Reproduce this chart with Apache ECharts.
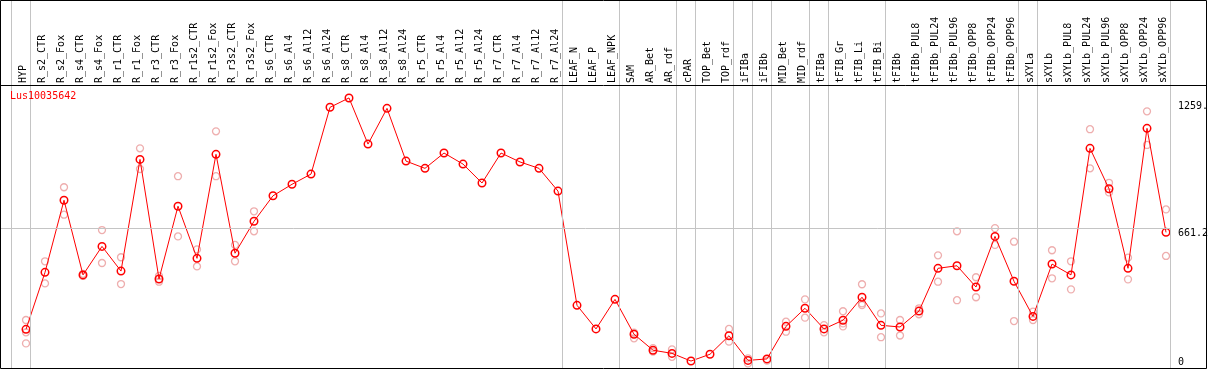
<!DOCTYPE html>
<html>
<head>
<meta charset="utf-8">
<script src="https://cdn.jsdelivr.net/npm/echarts@6/dist/echarts.min.js"></script>
<style>
  html, body { margin: 0; padding: 0; background: #fff; }
  #chart { width: 1209px; height: 370px; }
</style>
</head>
<body>
<div id="chart"></div>
<script>
const geneName = 'Lus10035642';

const categories = [
  'HYP', 'R_s2_CTR', 'R_s2_Fox', 'R_s4_CTR', 'R_s4_Fox', 'R_r1_CTR', 'R_r1_Fox', 'R_r3_CTR', 'R_r3_Fox',
  'R_r1s2_CTR', 'R_r1s2_Fox', 'R_r3s2_CTR', 'R_r3s2_Fox', 'R_s6_CTR', 'R_s6_Al4', 'R_s6_Al12', 'R_s6_Al24',
  'R_s8_CTR', 'R_s8_Al4', 'R_s8_Al12', 'R_s8_Al24', 'R_r5_CTR', 'R_r5_Al4', 'R_r5_Al12', 'R_r5_Al24',
  'R_r7_CTR', 'R_r7_Al4', 'R_r7_Al12', 'R_r7_Al24', 'LEAF_N', 'LEAF_P', 'LEAF_NPK', 'SAM', 'AR_Bet', 'AR_rdf',
  'cPAR', 'TOP_Bet', 'TOP_rdf', 'iFIBa', 'iFIBb', 'MID_Bet', 'MID_rdf', 'tFIBa', 'tFIB_Gr', 'tFIB_Li', 'tFIB_Bi',
  'tFIBb', 'tFIBb_PUL8', 'tFIBb_PUL24', 'tFIBb_PUL96', 'tFIBb_OPP8', 'tFIBb_OPP24', 'tFIBb_OPP96',
  'sXYLa', 'sXYLb', 'sXYLb_PUL8', 'sXYLb_PUL24', 'sXYLb_PUL96', 'sXYLb_OPP8', 'sXYLb_OPP24', 'sXYLb_OPP96'
];

const meanValues = [
  185, 453, 792, 441, 575, 459, 984, 422, 764,
  519, 1008, 543, 693, 813, 867, 915, 1229,
  1273, 1056, 1224, 976, 942, 1014, 962, 873,
  1014, 972, 942, 835, 298, 187, 326, 162, 87, 72,
  36, 68, 155, 39, 46, 199, 284, 187, 228, 336, 204,
  196, 271, 472, 484, 384, 622, 411,
  246, 492, 441, 1036, 846, 472, 1130, 641
];

const replicateValues = [
  [229, 171, 119], [505, 401], [853, 724], [446, 436], [652, 497], [524, 398], [1036, 939], [436, 409], [905, 622],
  [561, 481], [1116, 905], [582, 505], [740, 646], [], [], [], [],
  [], [], [], [], [], [], [], [],
  [], [], [], [], [], [], [], [169, 143], [97, 80], [91, 56],
  [], [], [187, 127], [49, 25], [38], [221, 174], [326, 240], [205, 171], [270, 213, 199], [397, 307, 299], [260, 148],
  [229, 156], [284, 256], [533, 409], [646, 322], [430, 336], [661, 582], [597, 224],
  [268, 229], [557, 425], [505, 373], [1126, 942], [874, 829], [522, 420], [1210, 1052], [749, 530]
];

// separators drawn just after these category indices
const groupBreaks = [-1, 0, 28, 31, 34, 35, 37, 38, 39, 41, 42, 45, 52, 53, 60];

const yTickValues = [0, 661.2, 1259];
const yTickLabels = ['0', '661.2', '1259.'];
const refLineValue = 661.2;

const FONT = 'DejaVu Sans Mono';

const chart = echarts.init(document.getElementById('chart'), null, { renderer: 'canvas' });

const lineData = meanValues.map((v, i) => [i, v]);
const repData = [];
replicateValues.forEach((arr, i) => arr.forEach(v => repData.push([i, v])));

const markData = groupBreaks.map(b => ({ xAxis: b + 0.21 }));
markData.push({ yAxis: refLineValue });

const option = {
  animation: false,
  backgroundColor: '#fff',
  title: {
    text: geneName,
    left: 10,
    top: 91,
    padding: 0,
    textStyle: { color: '#ff0000', fontSize: 10, fontWeight: 'normal', fontFamily: FONT }
  },
  grid: {
    left: 1,
    right: 39,
    top: 0,
    bottom: 1.3,
    containLabel: false,
    outerBoundsMode: 'none'
  },
  xAxis: {
    type: 'value',
    position: 'top',
    offset: -85,
    min: -1.31579,
    max: 60.2105,
    axisLine: { show: false },
    axisTick: { show: false },
    splitLine: { show: false },
    axisLabel: {
      customValues: categories.map((c, i) => i),
      rotate: 90,
      margin: 2,
      color: '#000',
      fontSize: 10,
      fontFamily: FONT,
      formatter: v => '{c|' + (categories[Math.round(v)] || '') + '}',
      rich: {
        c: { fontSize: 10, fontFamily: FONT, color: '#000', padding: [0, 0, 5, 0] }
      }
    }
  },
  yAxis: {
    type: 'value',
    position: 'right',
    min: 0,
    max: 1733.5,
    axisLine: { show: false },
    axisTick: { show: false },
    splitLine: { show: false },
    axisLabel: {
      customValues: yTickValues,
      margin: 8,
      color: '#000',
      fontSize: 10,
      fontFamily: FONT,
      verticalAlign: 'middle',
      formatter: v => {
        const idx = yTickValues.indexOf(v);
        const txt = idx >= 0 ? yTickLabels[idx] : '';
        return idx === 0 ? '{b|' + txt + '}' : '{t|' + txt + '}';
      },
      rich: {
        t: { fontSize: 10, fontFamily: FONT, color: '#000', padding: [10, 0, 0, 0] },
        b: { fontSize: 10, fontFamily: FONT, color: '#000', padding: [0, 0, 13, 0] }
      }
    }
  },
  series: [
    {
      type: 'line',
      name: 'guides',
      data: [],
      z: 1,
      silent: true,
      markLine: {
        silent: true,
        symbol: ['none', 'none'],
        label: { show: false },
        lineStyle: { color: '#c4c4c4', width: 1, type: 'solid' },
        emphasis: { disabled: true },
        data: markData
      }
    },
    {
      type: 'scatter',
      name: 'replicates',
      data: repData,
      z: 2,
      symbol: 'circle',
      symbolSize: 7,
      itemStyle: { color: 'rgba(0,0,0,0)', borderColor: '#ea9a9a', borderWidth: 1.3 }
    },
    {
      type: 'line',
      name: 'mean',
      data: lineData,
      z: 3,
      showAllSymbol: true,
      symbol: 'circle',
      symbolSize: 7.5,
      lineStyle: { color: '#ff0000', width: 1 },
      itemStyle: { color: 'rgba(0,0,0,0)', borderColor: '#ff0000', borderWidth: 1.5 }
    }
  ],
  graphic: [
    {
      type: 'rect',
      z: 100,
      silent: true,
      shape: { x: 0.5, y: 0.5, width: 1206, height: 368 },
      style: { fill: 'none', stroke: '#000', lineWidth: 1 }
    },
    {
      type: 'line',
      z: 100,
      silent: true,
      shape: { x1: 0, y1: 85.5, x2: 1207, y2: 85.5 },
      style: { stroke: '#000', lineWidth: 1 }
    }
  ]
};

chart.setOption(option);
</script>
</body>
</html>
